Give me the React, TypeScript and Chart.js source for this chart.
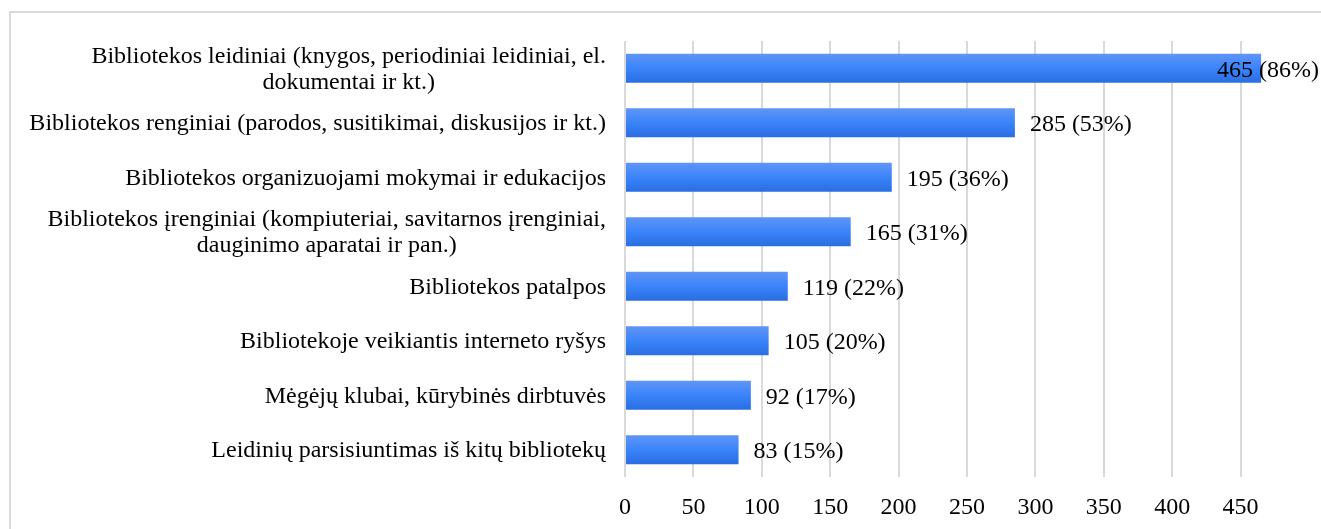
import React, { useEffect, useRef } from "react";
import { Chart, registerables } from "chart.js";

Chart.register(...registerables);

const categories: (string | string[])[] = [
  ["Bibliotekos leidiniai (knygos, periodiniai leidiniai, el.", "dokumentai ir kt.)"],
  "Bibliotekos renginiai (parodos, susitikimai, diskusijos ir kt.)",
  "Bibliotekos organizuojami mokymai ir edukacijos",
  ["Bibliotekos įrenginiai (kompiuteriai, savitarnos įrenginiai,", "dauginimo aparatai ir pan.)"],
  "Bibliotekos patalpos",
  "Bibliotekoje veikiantis interneto ryšys",
  "Mėgėjų klubai, kūrybinės dirbtuvės",
  "Leidinių parsisiuntimas iš kitų bibliotekų",
];
const counts: number[] = [465, 285, 195, 165, 119, 105, 92, 83];
const percents: number[] = [86, 53, 36, 31, 22, 20, 17, 15];
const xTicksMax = 450;

const FONT = '"Liberation Serif", "Times New Roman", serif';
const FONT_SIZE = 24;

const framePlugin = {
  id: "frame",
  beforeDraw(chart: any) {
    const c = chart.ctx;
    c.save();
    c.fillStyle = "#ffffff";
    c.fillRect(0, 0, chart.width, chart.height);
    c.strokeStyle = "#d9d9d9";
    c.lineWidth = 2;
    c.beginPath();
    c.moveTo(10, chart.height);
    c.lineTo(10, 12);
    c.lineTo(chart.width, 12);
    c.stroke();
    c.restore();
  },
};

const yLabelPlugin = {
  id: "yLabels",
  afterDraw(chart: any) {
    const c = chart.ctx;
    const yScale = chart.scales.y;
    const right = 606;
    const lh = 26;
    c.save();
    c.font = `${FONT_SIZE}px ${FONT}`;
    c.fillStyle = "#000000";
    c.textBaseline = "middle";
    c.textAlign = "center";
    categories.forEach((lab, i) => {
      const lines = Array.isArray(lab) ? lab : [lab];
      const maxW = Math.max(...lines.map((l) => c.measureText(l).width));
      const cx = right - maxW / 2;
      const yc = yScale.getPixelForValue(i);
      const y0 = yc - ((lines.length - 1) * lh) / 2;
      lines.forEach((l, k) => c.fillText(l, cx, y0 + k * lh + 1));
    });
    c.restore();
  },
};

const dataLabelPlugin = {
  id: "dataLabels",
  afterDatasetsDraw(chart: any) {
    const c = chart.ctx;
    const meta = chart.getDatasetMeta(0);
    c.save();
    c.font = `${FONT_SIZE}px ${FONT}`;
    c.fillStyle = "#000000";
    c.textBaseline = "middle";
    c.textAlign = "left";
    meta.data.forEach((bar: any, i: number) => {
      const txt = `${counts[i]} (${percents[i]}%)`;
      const w = c.measureText(txt).width;
      const x = Math.min(bar.x + 15, chart.width - 2 - w);
      c.fillText(txt, x, bar.y + 2);
    });
    c.restore();
  },
};

export default function App() {
  const ref = useRef<HTMLCanvasElement | null>(null);
  useEffect(() => {
    if (!ref.current) return;
    const chart = new Chart(ref.current, {
      type: "bar",
      data: {
        labels: categories,
        datasets: [
          {
            data: counts,
            backgroundColor: (ctx: any) => {
              const ch = ctx.chart;
              const ys = ch.scales && ch.scales.y;
              if (!ys || ctx.dataIndex === undefined) return "#3b84fa";
              const yc = ys.getPixelForValue(ctx.dataIndex);
              if (!Number.isFinite(yc)) return "#3b84fa";
              const g = ch.ctx.createLinearGradient(0, yc - 14.5, 0, yc + 14.5);
              g.addColorStop(0, "#6095f6");
              g.addColorStop(0.5, "#3a84fa");
              g.addColorStop(1, "#2a6de2");
              return g;
            },
            borderWidth: 0,
            barPercentage: 0.53,
            categoryPercentage: 1,
          },
        ],
      },
      options: {
        indexAxis: "y",
        responsive: false,
        animation: false,
        layout: { padding: { top: 41, right: 12, left: 0, bottom: 0 } },
        plugins: { legend: { display: false }, tooltip: { enabled: false }, title: { display: false } },
        scales: {
          x: {
            min: 0,
            max: 500,
            afterBuildTicks: (s: any) => {
              s.ticks = s.ticks.filter((t: any) => t.value <= xTicksMax);
            },
            afterFit: (s: any) => {
              s.height = 52;
            },
            ticks: {
              stepSize: 50,
              color: "#000000",
              font: { family: FONT, size: FONT_SIZE },
              padding: 16,
              maxRotation: 0,
            },
            grid: { color: "#d9d9d9", lineWidth: 2, drawTicks: false },
            border: { display: false },
          },
          y: {
            ticks: { display: false },
            grid: { display: false, drawTicks: false },
            border: { display: false },
            afterFit: (s: any) => {
              s.width = 625;
            },
          },
        },
      },
      plugins: [framePlugin, yLabelPlugin, dataLabelPlugin],
    });
    return () => chart.destroy();
  }, []);
  return (
    <div style={{ position: "fixed", left: 0, top: 0, width: 1321, height: 529 }}>
      <canvas ref={ref} width={1321} height={529} style={{ width: 1321, height: 529, display: "block" }} />
    </div>
  );
}
